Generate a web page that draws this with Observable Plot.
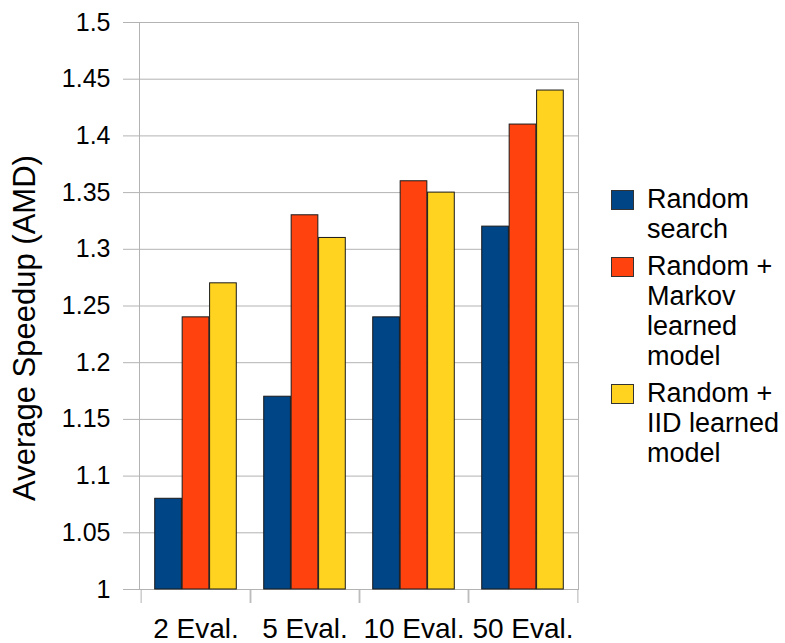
<!DOCTYPE html>
<html>
<head>
<meta charset="utf-8">
<script src="https://cdn.jsdelivr.net/npm/d3@7"></script>
<script src="https://cdn.jsdelivr.net/npm/@observablehq/plot@0.6"></script>
<style>
  html, body { margin: 0; padding: 0; background: #fff; }
  #wrap { position: relative; width: 785px; height: 643px; font-family: "Liberation Sans", Arial, sans-serif; }
  #wrap svg { position: absolute; left: 0; top: 0; }
  g[aria-label="y-axis label"] text { font-size: 31px; }
  #legend { position: absolute; left: 611px; top: 184px; color: #000; font-size: 27px; line-height: 30px; }
  .item { display: flex; align-items: flex-start; margin-bottom: 7px; }
  .sw { width: 21px; height: 18px; border: 1px solid #333; margin-top: 6px; margin-right: 13px; flex: none; }
</style>
</head>
<body>
<div id="wrap"></div>
<script>
const categories = ["2 Eval.", "5 Eval.", "10 Eval.", "50 Eval."];
const series = ["Random search", "Random + Markov learned model", "Random + IID learned model"];
const legendLines = [["Random", "search"], ["Random +", "Markov", "learned", "model"], ["Random +", "IID learned", "model"]];
const randomSearch = [1.08, 1.17, 1.24, 1.32];
const markovModel = [1.24, 1.33, 1.36, 1.41];
const iidModel = [1.27, 1.31, 1.35, 1.44];
const yTicks = [1, 1.05, 1.1, 1.15, 1.2, 1.25, 1.3, 1.35, 1.4, 1.45, 1.5];
const colors = ["#004586", "#ff420e", "#ffd320"];
const baseline = 1;

const values = [randomSearch, markovModel, iidModel];
const data = [];
series.forEach((s, i) => categories.forEach((c, j) => data.push({series: s, cat: c, value: values[i][j]})));

const W = 785, H = 643, mL = 139, mR = 207, mT = 22, mB = 54;
const band = (W - mL - mR) / categories.length;
const sub = d3.scaleBand(series, [0, band]).paddingOuter(0.5).paddingInner(0);
const grid = "#b3b3b3";

const barMarks = series.map((s, i) => Plot.barY(data.filter(d => d.series === s), {
  x: "cat", y1: baseline, y2: "value", fill: colors[i], stroke: "#1a1a1a", strokeWidth: 1,
  insetLeft: sub(s), insetRight: band - sub(s) - sub.bandwidth()
}));

const chart = Plot.plot({
  width: W, height: H,
  marginLeft: mL, marginRight: mR, marginTop: mT, marginBottom: mB,
  style: {fontFamily: "'Liberation Sans', Arial, sans-serif", fontSize: "24px", color: "#000", background: "transparent"},
  x: {type: "band", domain: categories, padding: 0},
  y: {domain: [1, 1.5]},
  marks: [
    Plot.gridY(yTicks, {stroke: grid, strokeOpacity: 1}),
    Plot.frame({stroke: grid}),
    Plot.axisY(yTicks, {tickSize: 16, tickPadding: 13, stroke: grid, fill: "#000", fontSize: 25,
      tickFormat: d => String(d), label: "Average Speedup (AMD)", labelAnchor: "center", labelArrow: "none", labelOffset: 127}),
    Plot.axisX({tickSize: 14, dx: -band / 2, stroke: grid, tickFormat: () => "", label: null}),
    Plot.axisX({tickSize: 14, dx: band / 2, stroke: grid, tickFormat: () => "", label: null}),
    Plot.axisX({tickSize: 0, tickPadding: 29, fontSize: 28, fill: "#000", label: null}),
    ...barMarks
  ]
});
document.getElementById("wrap").appendChild(chart);

// nudge the y-axis title down slightly, as in the reference
const lab = chart.querySelector('g[aria-label="y-axis label"] text');
if (lab) lab.setAttribute("transform", "translate(0,22) " + (lab.getAttribute("transform") || ""));

const legend = document.createElement("div");
legend.id = "legend";
series.forEach((s, i) => {
  const item = document.createElement("div");
  item.className = "item";
  const sw = document.createElement("div");
  sw.className = "sw";
  sw.style.background = colors[i];
  const txt = document.createElement("div");
  txt.innerHTML = legendLines[i].map(l => `<div>${l}</div>`).join("");
  item.appendChild(sw); item.appendChild(txt);
  legend.appendChild(item);
});
document.getElementById("wrap").appendChild(legend);
</script>
</body>
</html>
